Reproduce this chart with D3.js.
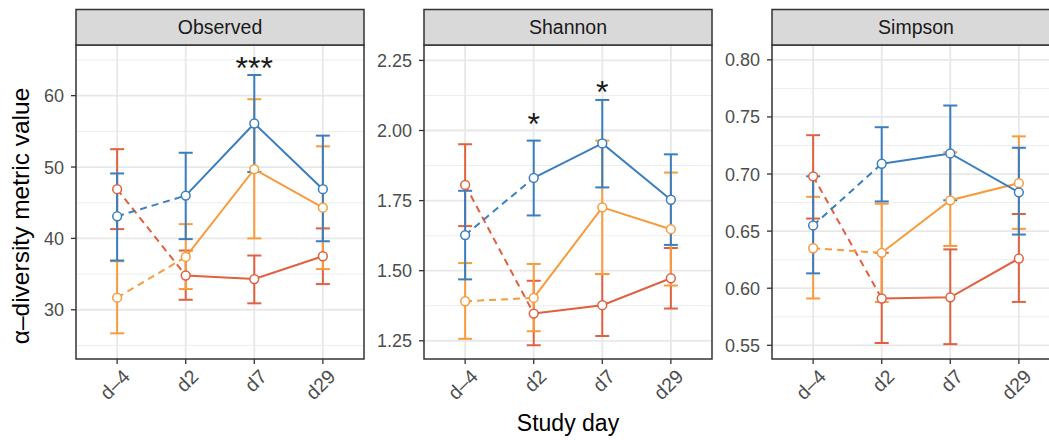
<!DOCTYPE html>
<html lang="en">
<head>
    <meta charset="UTF-8">
    <title>Alpha diversity</title>
    <script src="https://d3js.org/d3.v7.min.js"></script>
    <style>
        body {margin: 0; background: white}
        text {font-family: 'Liberation Sans', Arial, Helvetica, sans-serif}
        .grid-major {stroke: #e8e8e8; stroke-width: 1.8}
        .grid-minor {stroke: #ebebeb; stroke-width: 0.9}
        .tick-label {fill: #4d4d4d; font-size: 18px}
        .xlab {font-size: 19.5px}
        .axis-tick {stroke: #333; stroke-width: 1.3}
    </style>
</head>
<body>
<script>
    const width  = 1049;
    const height = 440;

    // categories
    const days    = ["d\u20134", "d2", "d7", "d29"];
    const metrics = ["Observed", "Shannon", "Simpson"];
    const groups  = ["red", "orange", "blue"];
    const groupColors = ["#e0603f", "#f89b3c", "#3a7ebf"];

    // mean / lower / upper per group (rows: red, orange, blue), columns = days
    const meanObserved = [[46.9, 34.8, 34.3, 37.5], [31.7, 37.4, 49.7, 44.3], [43.1, 46.0, 56.1, 46.9]];
    const lowObserved  = [[41.3, 31.4, 30.9, 33.6], [26.7, 32.9, 40.0, 35.7], [36.9, 39.9, 49.3, 39.6]];
    const highObserved = [[52.5, 38.3, 37.6, 41.4], [36.8, 42.0, 59.5, 52.9], [49.1, 52.0, 62.9, 54.4]];

    const meanShannon = [[1.806, 1.347, 1.377, 1.473], [1.391, 1.403, 1.726, 1.648], [1.627, 1.831, 1.954, 1.753]];
    const lowShannon  = [[1.659, 1.234, 1.267, 1.365], [1.257, 1.284, 1.488, 1.447], [1.469, 1.697, 1.797, 1.592]];
    const highShannon = [[1.951, 1.464, 1.488, 1.581], [1.527, 1.524, 1.964, 1.850], [1.785, 1.964, 2.109, 1.915]];

    const meanSimpson = [[0.698, 0.591, 0.592, 0.626], [0.635, 0.631, 0.677, 0.692], [0.655, 0.709, 0.718, 0.684]];
    const lowSimpson  = [[0.661, 0.552, 0.551, 0.588], [0.591, 0.588, 0.637, 0.652], [0.613, 0.676, 0.677, 0.647]];
    const highSimpson = [[0.734, 0.631, 0.634, 0.665], [0.680, 0.674, 0.719, 0.733], [0.698, 0.741, 0.760, 0.723]];

    // y axes
    const domainObserved = [23.1, 67.1];
    const domainShannon  = [1.185, 2.305];
    const domainSimpson  = [0.538, 0.813];
    const ticksObserved  = [30, 40, 50, 60];
    const ticksShannon   = [1.25, 1.50, 1.75, 2.00, 2.25];
    const ticksSimpson   = [0.55, 0.60, 0.65, 0.70, 0.75, 0.80];

    // significance marks: metric, day, label, y position (data units)
    const sigMetric = ["Observed", "Shannon", "Shannon"];
    const sigDay    = ["d7", "d2", "d7"];
    const sigLabel  = ["***", "*", "*"];
    const sigY      = [64.4, 2.037, 2.150];

    const panels = [
        {name: "Observed", mean: meanObserved, low: lowObserved, high: highObserved,
         domain: domainObserved, ticks: ticksObserved, fmt: d3.format("d")},
        {name: "Shannon", mean: meanShannon, low: lowShannon, high: highShannon,
         domain: domainShannon, ticks: ticksShannon, fmt: d3.format(".2f")},
        {name: "Simpson", mean: meanSimpson, low: lowSimpson, high: highSimpson,
         domain: domainSimpson, ticks: ticksSimpson, fmt: d3.format(".2f")}
    ];

    const panelLeft = 76, panelStep = 348, panelW = 288;
    const stripTop = 9.5, plotTop = 45, plotBottom = 359;
    const cap = 7;
    const lw = 2;

    const svg = d3.select("body").append("svg")
            .attr("width", width).attr("height", height);

    const x = d3.scalePoint().domain(days).range([0, panelW]).padding(0.6);

    panels.forEach((p, pi) => {
        const g = svg.append("g")
                .attr("transform", `translate(${panelLeft + pi * panelStep},0)`);

        const y = d3.scaleLinear().domain(p.domain).range([plotBottom, plotTop]);

        // minor grid at midpoints between major ticks
        const step = p.ticks[1] - p.ticks[0];
        const minor = d3.range(p.ticks[0] - step / 2, p.domain[1], step)
                .filter(v => v > p.domain[0] && v < p.domain[1]);

        g.selectAll("line.grid-minor").data(minor).join("line")
                .attr("class", "grid-minor")
                .attr("x1", 0).attr("x2", panelW)
                .attr("y1", y).attr("y2", y);

        g.selectAll("line.grid-major-y").data(p.ticks).join("line")
                .attr("class", "grid-major grid-major-y")
                .attr("x1", 0).attr("x2", panelW)
                .attr("y1", y).attr("y2", y);

        g.selectAll("line.grid-major-x").data(days).join("line")
                .attr("class", "grid-major grid-major-x")
                .attr("x1", x).attr("x2", x)
                .attr("y1", plotTop).attr("y2", plotBottom);

        // y axis ticks + labels
        g.selectAll("line.ytick").data(p.ticks).join("line")
                .attr("class", "axis-tick ytick")
                .attr("x1", -5).attr("x2", 0)
                .attr("y1", y).attr("y2", y);
        g.selectAll("text.ylab").data(p.ticks).join("text")
                .attr("class", "tick-label ylab")
                .attr("x", -12).attr("y", y)
                .attr("dy", "0.36em")
                .attr("text-anchor", "end")
                .text(p.fmt);

        // x axis ticks + labels
        g.selectAll("line.xtick").data(days).join("line")
                .attr("class", "axis-tick xtick")
                .attr("x1", x).attr("x2", x)
                .attr("y1", plotBottom).attr("y2", plotBottom + 5);
        g.selectAll("text.xlab").data(days).join("text")
                .attr("class", "tick-label xlab")
                .attr("text-anchor", "end")
                .attr("dy", "0.72em")
                .attr("transform", d => `translate(${x(d) + 4},${plotBottom + 9}) rotate(-45)`)
                .text(d => d);

        // error bars
        p.mean.forEach((row, gi) => {
            const eb = g.append("g").attr("stroke", groupColors[gi]).attr("stroke-width", lw);
            days.forEach((d, di) => {
                const lo = y(p.low[gi][di]), hi = y(p.high[gi][di]);
                eb.append("line").attr("x1", x(d)).attr("x2", x(d)).attr("y1", lo).attr("y2", hi);
                eb.append("line").attr("x1", x(d) - cap).attr("x2", x(d) + cap).attr("y1", lo).attr("y2", lo);
                eb.append("line").attr("x1", x(d) - cap).attr("x2", x(d) + cap).attr("y1", hi).attr("y2", hi);
            });
        });

        // lines: dashed d-4 -> d2, solid afterwards
        const line = d3.line().x(d => x(d.day)).y(d => y(d.v));
        p.mean.forEach((row, gi) => {
            const pts = row.map((v, di) => ({day: days[di], v: v}));
            g.append("path").datum(pts.slice(0, 2))
                    .attr("d", line).attr("fill", "none")
                    .attr("stroke", groupColors[gi]).attr("stroke-width", lw)
                    .attr("stroke-dasharray", "7 5");
            g.append("path").datum(pts.slice(1))
                    .attr("d", line).attr("fill", "none")
                    .attr("stroke", groupColors[gi]).attr("stroke-width", lw);
        });

        // points
        p.mean.forEach((row, gi) => {
            g.selectAll(null).data(row).join("circle")
                    .attr("cx", (v, di) => x(days[di])).attr("cy", y)
                    .attr("r", 4.4).attr("fill", "white")
                    .attr("stroke", groupColors[gi]).attr("stroke-width", 1.5);
        });

        // significance stars
        sigMetric.forEach((m, si) => {
            if (m !== p.name) return;
            g.append("text")
                    .attr("x", x(sigDay[si])).attr("y", y(sigY[si]))
                    .attr("dy", "0.47em")
                    .attr("text-anchor", "middle")
                    .attr("font-size", "32px").attr("fill", "#1a1a1a")
                    .text(sigLabel[si]);
        });

        // panel border
        g.append("rect").attr("x", 0).attr("y", plotTop)
                .attr("width", panelW).attr("height", plotBottom - plotTop)
                .attr("fill", "none").attr("stroke", "#333").attr("stroke-width", 1.5);

        // strip
        g.append("rect").attr("x", 0).attr("y", stripTop)
                .attr("width", panelW).attr("height", plotTop - stripTop)
                .attr("fill", "#d9d9d9").attr("stroke", "#333").attr("stroke-width", 1.5);
        g.append("text")
                .attr("x", panelW / 2).attr("y", (stripTop + plotTop) / 2)
                .attr("dy", "0.36em").attr("text-anchor", "middle")
                .attr("font-size", "19.5px").attr("fill", "#1a1a1a")
                .text(p.name);
    });

    // axis titles
    svg.append("text")
            .attr("transform", `translate(29,216) rotate(-90)`)
            .attr("text-anchor", "middle")
            .attr("font-size", "24.5px")
            .text("\u03b1\u2013diversity metric value");

    svg.append("text")
            .attr("x", 568).attr("y", 431)
            .attr("text-anchor", "middle")
            .attr("font-size", "23px")
            .text("Study day");
</script>
</body>
</html>
